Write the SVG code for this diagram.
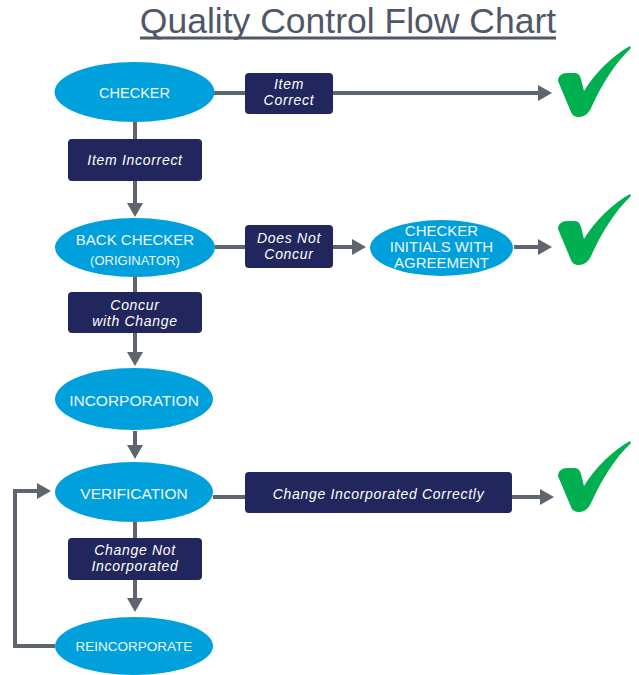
<svg xmlns="http://www.w3.org/2000/svg" width="639" height="675" viewBox="0 0 639 675">
<style>
.ell{fill:#00a0dc}
.et{font-family:"Liberation Sans",Arial,sans-serif;fill:#eef7fc;text-anchor:middle;font-size:15.5px}
.box{fill:#21265c}
.bt{font-family:"Liberation Sans",Arial,sans-serif;font-style:italic;fill:#ffffff;text-anchor:middle;font-size:14px;letter-spacing:0.7px}
.ln{stroke:#5e656e;stroke-width:4;fill:none}
.arr{marker-end:url(#ah)}
.chk{fill:#00b050}
</style>
<defs>
<marker id="ah" viewBox="0 0 14 16" refX="2" refY="8" markerWidth="14" markerHeight="16" markerUnits="userSpaceOnUse" orient="auto">
<path d="M0,0 L14,8 L0,16 Z" fill="#5e656e"/>
</marker>
<path id="check" d="M1,35 C1,30 5,27 10,27 L18,27 C21,27 23,29 24,33 L27,45 C38,27 55,10 73,0 L74,2 C58,17 45,38 35,60 C32,67 28,71 22,71 C18,71 15,69 14,66 Z"/>
</defs>
<g id="title">
<text x="348" y="33" font-family="Liberation Sans,Arial,sans-serif" font-size="35.5" fill="#505868" text-anchor="middle">Quality Control Flow Chart</text>
<rect x="140" y="36.5" width="416" height="3" fill="#505868"/>
</g>
<g id="connectors">
<line class="ln" x1="214" y1="93" x2="245" y2="93"/>
<line class="ln arr" x1="333" y1="93" x2="540" y2="93"/>
<line class="ln" x1="135" y1="122" x2="135" y2="139"/>
<line class="ln arr" x1="135" y1="181" x2="135" y2="205"/>
<line class="ln" x1="215" y1="247" x2="245" y2="247"/>
<line class="ln arr" x1="333" y1="247" x2="354" y2="247"/>
<line class="ln arr" x1="514" y1="247" x2="540" y2="247"/>
<line class="ln" x1="135" y1="277" x2="135" y2="292"/>
<line class="ln arr" x1="135" y1="333" x2="135" y2="354"/>
<line class="ln arr" x1="135" y1="431" x2="135" y2="447"/>
<line class="ln" x1="213" y1="497" x2="245" y2="497"/>
<line class="ln arr" x1="512" y1="497" x2="542" y2="497"/>
<line class="ln" x1="135" y1="522" x2="135" y2="538"/>
<line class="ln arr" x1="135" y1="580" x2="135" y2="600"/>
<path class="ln arr" d="M55,646 H15 V491 H39"/>
</g>
<g id="checker">
<ellipse class="ell" cx="134.5" cy="92" rx="80" ry="30"/>
<text class="et" x="134.5" y="98" style="font-size:14.5px">CHECKER</text>
</g>
<g id="item-correct">
<rect class="box" x="245" y="73" width="88" height="41" rx="4"/>
<text class="bt" x="289" y="89">Item</text>
<text class="bt" x="289" y="105">Correct</text>
</g>
<g id="check1"><use href="#check" class="chk" transform="translate(557,46)"/></g>
<g id="item-incorrect">
<rect class="box" x="68" y="139" width="134" height="42" rx="4"/>
<text class="bt" x="135" y="165">Item Incorrect</text>
</g>
<g id="back-checker">
<ellipse class="ell" cx="135" cy="247.5" rx="80" ry="29.5"/>
<text class="et" x="135" y="244.5" style="font-size:15px">BACK CHECKER</text>
<text class="et" x="135" y="265" style="font-size:13px">(ORIGINATOR)</text>
</g>
<g id="does-not-concur">
<rect class="box" x="245" y="225" width="88" height="43" rx="4"/>
<text class="bt" x="289" y="243">Does Not</text>
<text class="bt" x="289" y="259">Concur</text>
</g>
<g id="checker-initials">
<ellipse class="ell" cx="441.5" cy="248" rx="71.5" ry="28"/>
<text class="et" x="441.5" y="235.5" style="font-size:15px">CHECKER</text>
<text class="et" x="441.5" y="251.5" style="font-size:15px">INITIALS WITH</text>
<text class="et" x="441.5" y="267.5" style="font-size:15px">AGREEMENT</text>
</g>
<g id="check2"><use href="#check" class="chk" transform="translate(557,194)"/></g>
<g id="concur-with-change">
<rect class="box" x="68" y="292" width="134" height="41" rx="4"/>
<text class="bt" x="135" y="310">Concur</text>
<text class="bt" x="135" y="326">with Change</text>
</g>
<g id="incorporation">
<ellipse class="ell" cx="134" cy="399" rx="79" ry="31"/>
<text class="et" x="134" y="405.5">INCORPORATION</text>
</g>
<g id="verification">
<ellipse class="ell" cx="134" cy="492" rx="79" ry="30"/>
<text class="et" x="134" y="498.5">VERIFICATION</text>
</g>
<g id="change-incorporated-correctly">
<rect class="box" x="245" y="472" width="267" height="41" rx="4"/>
<text class="bt" x="378.5" y="499">Change Incorporated  Correctly</text>
</g>
<g id="check3"><use href="#check" class="chk" transform="translate(557,441)"/></g>
<g id="change-not-incorporated">
<rect class="box" x="68" y="538" width="134" height="42" rx="4"/>
<text class="bt" x="135" y="555">Change Not</text>
<text class="bt" x="135" y="571">Incorporated</text>
</g>
<g id="reincorporate">
<ellipse class="ell" cx="134" cy="646" rx="79" ry="29"/>
<text class="et" x="134" y="651" style="font-size:13.5px">REINCORPORATE</text>
</g>
</svg>
